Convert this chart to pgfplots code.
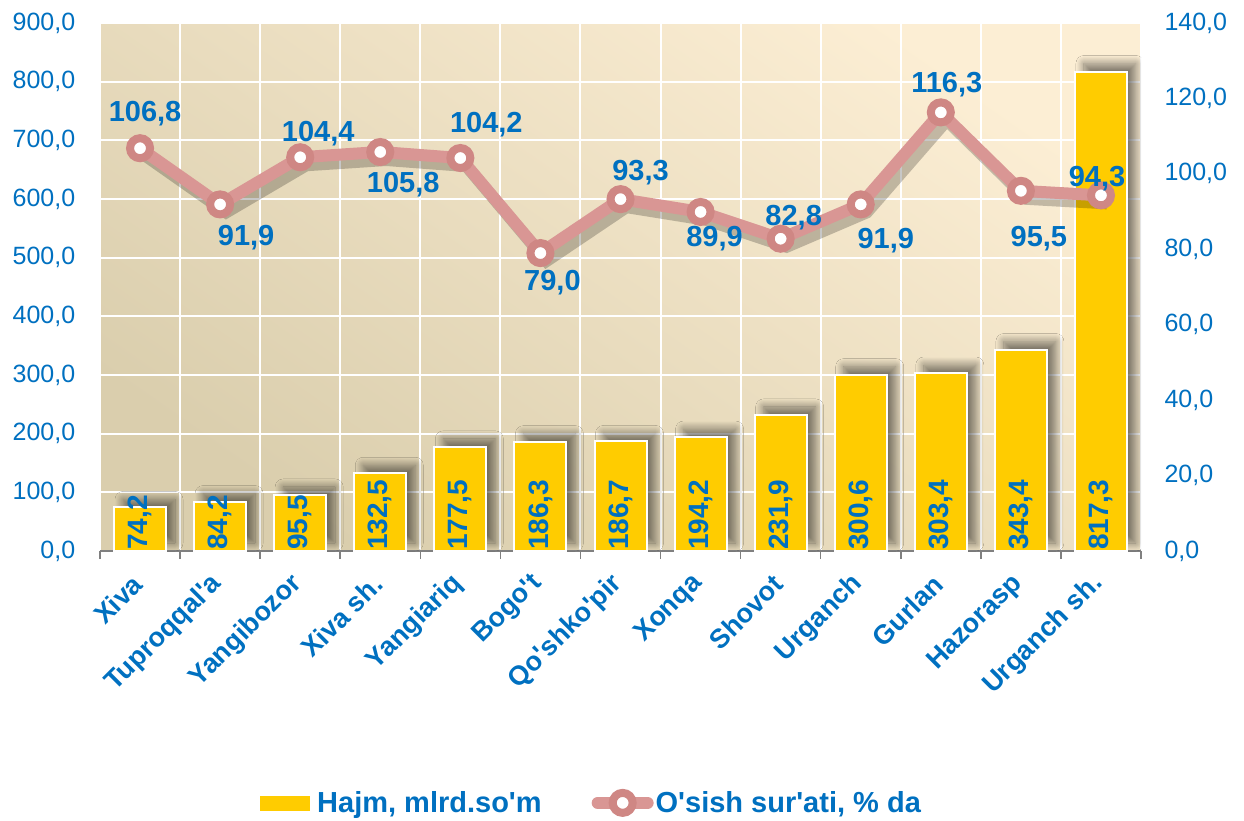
\documentclass[border=0pt]{standalone}
\usepackage{fontspec}
\setmainfont{Liberation Sans}
\usepackage{pgfplots}
\pgfplotsset{compat=1.18}
\usepackage{pgfplotstable}
\usetikzlibrary{shadows.blur}
\definecolor{lblue}{HTML}{0070C0}
\definecolor{gold}{HTML}{FFCC00}
\definecolor{lpink}{HTML}{D99694}
\definecolor{mpink}{HTML}{CF8784}
\definecolor{bgtop}{HTML}{FCEED4}
\definecolor{bgmid}{HTML}{F3EAD4}
\definecolor{bgbot}{HTML}{DACEAD}
\pgfplotstableread{
i vol g dx dy
0 74.2 106.8 5 35
1 84.2 91.9 26 -33
2 95.5 104.4 18 24
3 132.5 105.8 23 -33
4 177.5 104.2 26 33
5 186.3 79.0 12 -30
6 186.7 93.3 20 27
7 194.2 89.9 14 -27
8 231.9 82.8 13 21
9 300.6 91.9 25 -36
10 303.4 116.3 6 28
11 343.4 95.5 18 -48
12 817.3 94.3 -4 17
}\data
\pgfplotsset{/pgf/number format/.cd, fixed, fixed zerofill, precision=1, use comma, assume math mode=true}
\pgfplotsset{every axis/.append style={scale only axis, width=1041pt, height=528pt, xmin=-0.5, xmax=12.5, ymin=0}}
\pgfplotsset{pinkline legend/.style={legend image code/.code={\draw[mark repeat=2, mark phase=2, line cap=round, ##1] plot coordinates {(0pt,0pt) (25pt,0pt) (50pt,0pt)};}}}
\begin{document}
\begin{tikzpicture}
\useasboundingbox (-100pt,-269pt) rectangle (1144pt,551pt);
\begin{axis}[
  axis background/.style={shade, top color=bgtop, middle color=bgmid, bottom color=bgbot, shading angle=-35},
  ymax=900, ytick={0,100,...,900},
  axis x line*=bottom, axis y line*=left,
  x axis line style={draw=gray, line width=1.5pt},
  y axis line style={draw=none},
  ytick style={draw=none},
  xtick={0,...,12},
  xticklabels={Xiva, Tuproqqal\textquotesingle a, Yangibozor, Xiva sh., Yangiariq, Bogo\textquotesingle t, Qo\textquotesingle shko\textquotesingle pir, Xonqa, Shovot, Urganch, Gurlan, Hazorasp, Urganch sh.},
  major x tick style={draw=none},
  minor xtick={-0.5,0.5,...,12.5},
  minor x tick style={draw=gray, line width=1.5pt},
  minor tick length=8pt,
  tick align=outside,
  ymajorgrids, xminorgrids,
  major grid style={white, line width=2pt},
  minor grid style={white, line width=2pt},
  yticklabel style={font=\fontsize{25}{30}\selectfont, text=lblue, xshift=-17pt},
  xticklabel style={font=\fontsize{27}{32}\selectfont\bfseries, text=lblue, rotate=45, anchor=east},
  xticklabel shift={22pt},
]
\addplot[ybar, bar width=52pt, fill=gold, draw=white, line width=2pt,
  blur shadow={shadow xshift=9pt, shadow yshift=8pt, shadow blur radius=8pt, shadow blur steps=16, shadow opacity=50}]
  table[x=i,y=vol]{\data};
\addplot[draw=none, mark=none, nodes near coords, point meta=\thisrow{vol},
  every node near coord/.append style={rotate=90, anchor=west, inner sep=1pt, font=\fontsize{28}{34}\selectfont\bfseries, text=lblue}]
  table[x=i, y expr=0]{\data};
\end{axis}
\begin{axis}[
  ymax=140, ytick={0,20,...,140},
  axis y line*=right, axis x line=none, xtick=\empty,
  y axis line style={draw=none},
  ytick style={draw=none},
  yticklabel style={font=\fontsize{25}{30}\selectfont, text=lblue, xshift=20pt},
  legend style={at={(0.472,-0.477)}, anchor=center, draw=none, fill=none, legend columns=2,
    font=\fontsize{29}{35}\selectfont\bfseries, text=lblue,
    /tikz/every even column/.append style={column sep=48pt}},
]
\addlegendimage{legend image code/.code={\fill[gold] (0pt,-7pt) rectangle (49pt,7pt); \path (55pt,0pt);}}
\addlegendentry{Hajm, mlrd.so\textquotesingle m}
\addplot[forget plot, draw=black, opacity=0.22, line width=12pt, xshift=6pt, yshift=-8pt] table[x=i,y=g]{\data};
\addplot[lpink, line width=12pt, mark=*, mark size=10pt,
  mark options={fill=white, draw=mpink, line width=8pt},
  nodes near coords, point meta=\thisrow{g},
  visualization depends on={\thisrow{dx} \as \dx},
  visualization depends on={\thisrow{dy} \as \dy},
  every node near coord/.append style={anchor=center, xshift=\dx pt, yshift=\dy pt, font=\fontsize{29}{35}\selectfont\bfseries, text=lblue},
  pinkline legend
] table[x=i,y=g]{\data};
\addlegendentry{O\textquotesingle sish sur\textquotesingle ati, \% da}
\end{axis}
\end{tikzpicture}
\end{document}
